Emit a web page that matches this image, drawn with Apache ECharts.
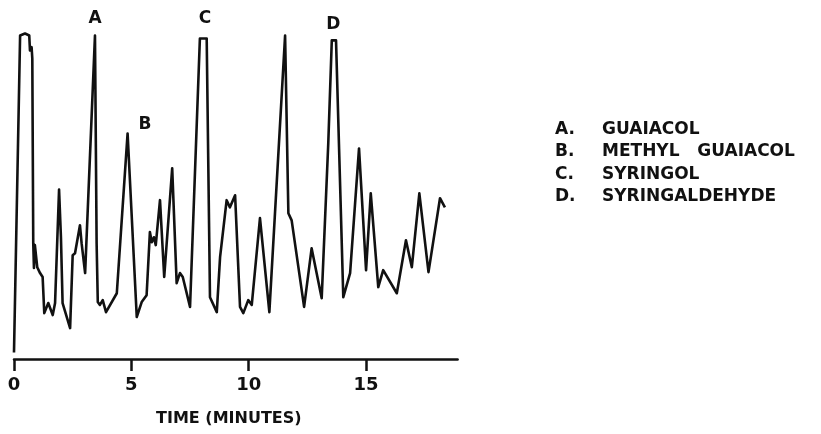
<!DOCTYPE html>
<html>
<head>
<meta charset="utf-8">
<script src="https://cdn.jsdelivr.net/npm/echarts@6/dist/echarts.min.js"></script>
<style>
  html, body { margin: 0; padding: 0; background: #fff; }
  #chart { width: 821px; height: 434px; }
</style>
</head>
<body>
<div id="chart"></div>
<script>
  // Chromatogram trace: time in minutes, detector response (relative, ~0-100)
  const times = [
    0.00, 0.26, 0.47, 0.65, 0.68, 0.75, 0.78, 0.82, 0.85, 0.89, 0.99, 1.11, 1.22,
    1.29, 1.46, 1.65, 1.75, 1.92, 2.00, 2.07, 2.39, 2.50, 2.60, 2.81, 2.88, 3.03,
    3.45, 3.52, 3.57, 3.66, 3.78, 3.92, 4.38, 4.84, 5.23, 5.44, 5.65, 5.79, 5.87,
    5.96, 6.04, 6.22, 6.40, 6.74, 6.93, 7.07, 7.19, 7.50, 7.92, 8.21, 8.35, 8.64,
    8.78, 9.06, 9.20, 9.42, 9.63, 9.77, 9.98, 10.13, 10.48, 10.88, 11.55, 11.69,
    11.83, 12.36, 12.68, 13.11, 13.39, 13.54, 13.72, 14.03, 14.32, 14.70, 15.00,
    15.20, 15.52, 15.73, 16.31, 16.70, 16.95, 17.27, 17.66, 18.15, 18.22, 18.36
  ];
  const response = [
    2.0, 99.4, 100.0, 99.4, 94.8, 95.8, 92.3, 35.6, 28.0, 35.0, 28.2, 26.4, 25.2,
    14.1, 17.2, 13.5, 17.2, 52.1, 37.4, 17.2, 9.5, 31.9, 32.5, 41.1, 35.6, 26.4,
    99.4, 35.6, 17.5, 16.6, 18.1, 14.4, 20.2, 69.3, 12.9, 17.5, 19.6, 39.0, 35.9,
    37.4, 35.0, 48.8, 25.2, 58.6, 23.3, 26.4, 25.2, 16.0, 98.5, 98.5, 19.0, 14.4,
    31.3, 48.8, 46.6, 50.3, 16.0, 14.1, 18.1, 16.6, 43.3, 14.4, 99.4, 44.8,
    42.6, 16.0, 34.0, 18.7, 66.3, 97.9, 97.9, 19.0, 26.4, 64.7, 27.3,
    50.9, 22.1, 27.3, 20.2, 36.5, 28.2, 50.9, 26.7, 49.4, 49.8, 46.6
  ];

  // Peak letters and where they sit (time, response)
  const peakLetters = ['A', 'B', 'C', 'D'];
  const peakTimes = [3.45, 5.58, 8.14, 13.6];
  const peakHeights = [104.5, 71.9, 104.6, 102.8];

  // Key on the right
  const compoundNames = ['GUAIACOL', 'METHYL   GUAIACOL', 'SYRINGOL', 'SYRINGALDEHYDE'];

  const xTicks = [0, 5, 10, 15];

  const FONT = '"DejaVu Sans", sans-serif';
  const INK = '#111';

  const chart = echarts.init(document.getElementById('chart'), null, { renderer: 'canvas' });

  const traceData = times.map((t, i) => [t, response[i]]);
  const peakData = peakLetters.map((l, i) => [peakTimes[i], peakHeights[i], l]);

  const legendText = [];
  compoundNames.forEach((name, i) => {
    const y = 131 + i * 22.5;
    legendText.push({
      type: 'text', left: 555, top: y - 10,
      style: { text: peakLetters[i] + '.', font: 'bold 17px ' + FONT, fill: INK }
    });
    legendText.push({
      type: 'text', left: 602, top: y - 10,
      style: { text: name, font: 'bold 17px ' + FONT, fill: INK }
    });
  });

  chart.setOption({
    backgroundColor: '#fff',
    animation: false,
    grid: { left: 14, top: 1, bottom: 75, right: 363.4, containLabel: false },
    xAxis: {
      type: 'value',
      min: 0,
      max: 18.9,
      interval: 5,
      name: 'TIME (MINUTES)',
      nameLocation: 'middle',
      nameGap: 52,
      nameTextStyle: { color: INK, fontSize: 16, fontWeight: 'bold', fontFamily: FONT, padding: [0, 14, 0, 0] },
      axisLine: { show: true, lineStyle: { color: INK, width: 2.5 } },
      axisTick: { show: true, length: 12, lineStyle: { color: INK, width: 2.5 },
        customValues: xTicks },
      axisLabel: { color: INK, fontSize: 18, fontWeight: 'bold', fontFamily: FONT, margin: 17,
        customValues: xTicks, formatter: v => String(v) },
      splitLine: { show: false }
    },
    yAxis: {
      type: 'value',
      min: 0,
      max: 110,
      show: false
    },
    graphic: legendText,
    series: [
      {
        type: 'line',
        data: traceData,
        showSymbol: false,
        symbol: 'none',
        lineStyle: { color: INK, width: 2.6, join: 'round' },
        clip: false
      },
      {
        type: 'scatter',
        data: peakData,
        symbolSize: 0,
        clip: false,
        itemStyle: { color: INK, opacity: 1 },
        label: {
          show: true,
          position: 'inside',
          formatter: p => p.value[2],
          color: INK,
          fontSize: 17,
          fontWeight: 'bold',
          fontFamily: FONT
        }
      }
    ]
  });
</script>
</body>
</html>
